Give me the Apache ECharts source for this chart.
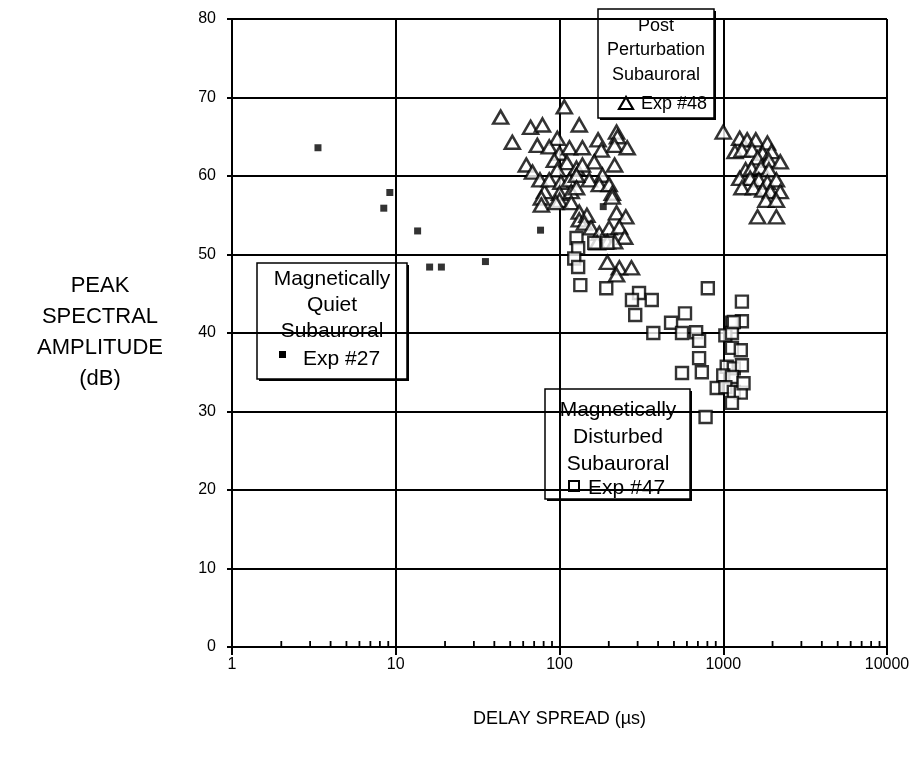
<!DOCTYPE html>
<html>
<head>
<meta charset="utf-8">
<script src="https://cdn.jsdelivr.net/npm/echarts@6/dist/echarts.min.js"></script>
<style>html,body{margin:0;padding:0;background:#fff}#c{width:919px;height:770px}</style>
</head>
<body>
<div id="c"></div>
<script>
// Magnetically Quiet Subauroral, Exp #27 (filled squares)
const quietX = [3.35, 8.45, 9.2, 13.6, 16.1, 19.0, 35.3, 76.6, 185];
const quietY = [63.6, 55.9, 57.9, 53.0, 48.4, 48.4, 49.1, 53.1, 56.1];

// Post Perturbation Subauroral, Exp #48 (open triangles)
const postX = [43.7, 51.5, 66.6, 78.7, 73.2, 62.7, 68.4, 76, 81, 77.5, 107, 97, 86.6, 100, 93, 115, 111, 97, 86.6, 102, 115, 127, 100, 118, 100,
  132, 223, 226, 172, 217, 259, 180, 138, 163, 217, 138, 183, 152, 175, 201, 210, 127, 127,
  77.5, 95, 118, 132, 132, 147, 142, 156, 175, 201, 223, 254, 232, 250, 196, 170, 217, 210, 196, 232, 275, 223,
  1000, 1260, 1400, 1580, 1860, 1180, 1300, 1500, 1740, 1970, 1620, 1900, 2230, 1370, 1490, 1700, 1900, 1260, 1460, 1650, 1860, 2110, 1300, 1530, 1740, 1940, 2230, 1820, 2110, 1620, 2110];
const postY = [67.5, 64.3, 66.2, 66.5, 63.9, 61.4, 60.5, 59.5, 58, 57.2, 68.8, 64.8, 63.7, 62.9, 62, 63.6, 61.7, 60.8, 59.5, 59.2, 59.5, 61, 57.8, 58, 56.9,
  66.5, 65.6, 65, 64.6, 63.9, 63.6, 63.3, 63.6, 61.8, 61.4, 61.4, 60.1, 59.5, 58.9, 58.9, 57.8, 60.1, 58.5,
  56.3, 56.6, 56.6, 55.4, 54.4, 55, 54, 53.4, 52.7, 53.4, 55.3, 54.8, 53.5, 52.2, 51.6, 51.5, 51.6, 57.3, 49, 48.3, 48.3, 47.4,
  65.6, 64.8, 64.6, 64.6, 64.2, 63.1, 63.3, 63.3, 62.9, 63.1, 62.3, 62, 61.8, 60.8, 61, 61.1, 60.8, 59.7, 59.7, 59.5, 59.2, 59.5, 58.5, 58.5, 58.2, 58, 58, 56.9, 56.9, 54.8, 54.8];

// Magnetically Disturbed Subauroral, Exp #47 (open squares)
const distX = [127, 130, 163, 196, 123, 130, 134, 193, 306, 277, 366, 290, 584, 480, 374, 560, 683, 712, 805, 1300, 1300, 1130, 1030, 1130,
  712, 740, 560, 1130, 1280, 1050, 1160, 1300, 1000, 1130, 912, 1030, 1160, 1280, 1130, 780, 1330, 1160];
const distY = [52.1, 50.8, 51.5, 51.5, 49.5, 48.4, 46.1, 45.7, 45.1, 44.2, 44.2, 42.3, 42.5, 41.3, 40, 40, 40.1, 39, 45.7, 44, 41.5, 41.3, 39.7, 40,
  36.8, 35, 34.9, 38.1, 37.8, 35.7, 35.5, 35.9, 34.6, 34.4, 33, 33.1, 32.5, 32.4, 31.1, 29.3, 33.6, 41.4];

const minorTicks = [2,3,4,5,6,7,8,9,20,30,40,50,60,70,80,90,200,300,400,500,600,700,800,900,2000,3000,4000,5000,6000,7000,8000,9000];
const xTickLabels = ['1', '10', '100', '1000', '10000'];

const FONT = "'Liberation Sans', Arial, sans-serif";
const zip = (xs, ys) => xs.map((x, i) => [x, ys[i]]);

function box(x, y, w, h, fs, lines, lineYs, cx, sym, tail, tailX, tailY) {
  const ch = [
    {type: 'rect', shape: {x: x + 2, y: y + 2, width: w, height: h}, style: {fill: '#000'}},
    {type: 'rect', shape: {x: x, y: y, width: w, height: h}, style: {fill: '#fff', stroke: '#000', lineWidth: 1.5}}
  ];
  lines.forEach((t, i) => ch.push({type: 'text', style: {text: t, x: cx, y: lineYs[i], textAlign: 'center', textVerticalAlign: 'middle', font: fs + 'px ' + FONT, fill: '#000'}}));
  ch.push(sym);
  ch.push({type: 'text', style: {text: tail, x: tailX, y: tailY, textAlign: 'left', textVerticalAlign: 'middle', font: fs + 'px ' + FONT, fill: '#000'}});
  return {type: 'group', z: 100, children: ch};
}

const chart = echarts.init(document.getElementById('c'));
chart.setOption({
  animation: false,
  backgroundColor: '#fff',
  grid: {left: 232, right: 32, top: 19, bottom: 123},
  xAxis: {
    type: 'log', logBase: 10, min: 1, max: 10000,
    axisLine: {lineStyle: {color: '#000', width: 2}},
    axisTick: {show: true, length: 8, lineStyle: {color: '#000', width: 2}},
    axisLabel: {color: '#000', fontSize: 16, fontFamily: FONT, margin: 10,
      formatter: v => xTickLabels[Math.round(Math.log10(v))]},
    splitLine: {show: true, lineStyle: {color: '#000', width: 2}},
    minorTick: {show: false},
    name: 'DELAY SPREAD (\u00b5s)', nameLocation: 'middle', nameGap: 63,
    nameTextStyle: {color: '#000', fontSize: 18, fontFamily: FONT}
  },
  yAxis: {
    type: 'value', min: 0, max: 80, interval: 10,
    axisLine: {show: true, lineStyle: {color: '#000', width: 2}},
    axisTick: {show: true, length: 5, lineStyle: {color: '#000', width: 2}},
    axisLabel: {color: '#000', fontSize: 16, fontFamily: FONT, margin: 16},
    splitLine: {show: true, lineStyle: {color: '#000', width: 2}}
  },
  graphic: [
    {type: 'text', z: 100, style: {text: 'PEAK\nSPECTRAL\nAMPLITUDE\n(dB)', x: 100, y: 332, textAlign: 'center', textVerticalAlign: 'middle', font: '22px ' + FONT, lineHeight: 31, fill: '#000'}},
    box(598, 9, 116, 109, 18, ['Post', 'Perturbation', 'Subauroral'], [26, 50, 75], 656,
      {type: 'polygon', shape: {points: [[626, 97], [619, 109], [633, 109]]}, style: {fill: '#fff', stroke: '#000', lineWidth: 2.2}},
      'Exp #48', 641, 104),
    box(257, 263, 150, 116, 21, ['Magnetically', 'Quiet', 'Subauroral'], [279, 305, 331], 332,
      {type: 'rect', shape: {x: 279, y: 351, width: 7, height: 7}, style: {fill: '#000'}},
      'Exp #27', 303, 359),
    box(545, 389, 145, 110, 21, ['Magnetically', 'Disturbed', 'Subauroral'], [410, 437, 464], 618,
      {type: 'rect', shape: {x: 569, y: 481, width: 10, height: 10}, style: {fill: '#fff', stroke: '#000', lineWidth: 2}},
      'Exp #47', 588, 488)
  ],
  series: [
    {type: 'custom', data: minorTicks.map(v => [v]), silent: true, clip: false, z: 5,
      renderItem: (params, api) => {
        const p = api.coord([api.value(0), 0]);
        return {type: 'line', shape: {x1: p[0], y1: p[1], x2: p[0], y2: p[1] - 6}, style: {stroke: '#000', lineWidth: 1.8}};
      }},
    {type: 'scatter', data: zip(quietX, quietY), symbol: 'rect', symbolSize: 7,
      itemStyle: {color: '#000'}, z: 3},
    {type: 'scatter', data: zip(postX, postY), symbol: 'triangle', symbolSize: [15, 13],
      itemStyle: {color: '#fff', borderColor: '#000', borderWidth: 2.5}, z: 3},
    {type: 'scatter', data: zip(distX, distY), symbol: 'rect', symbolSize: 12,
      itemStyle: {color: '#fff', borderColor: '#000', borderWidth: 2.4}, z: 4}
  ]
});
</script>
</body>
</html>
